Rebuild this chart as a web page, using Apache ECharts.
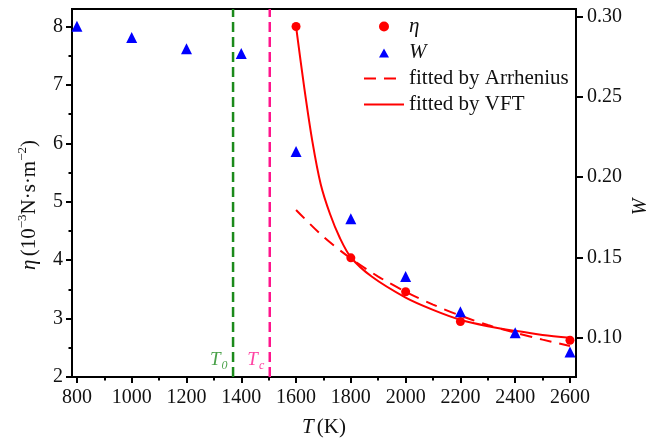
<!DOCTYPE html>
<html>
<head>
<meta charset="utf-8">
<script src="https://cdn.jsdelivr.net/npm/echarts@6/dist/echarts.min.js"></script>
<style>
  html, body { margin: 0; padding: 0; background: #fff; }
  #chart { width: 661px; height: 443px; }
</style>
</head>
<body>
<div id="chart"></div>
<script>
// 数据
const temps = [800, 1000, 1200, 1400, 1600, 1800, 2000, 2200, 2400, 2600];
const wVals = [0.294, 0.287, 0.280, 0.277, 0.216, 0.174, 0.138, 0.116, 0.103, 0.091];
const etaTemps = [1600, 1800, 2000, 2200, 2600];
const etaVals = [8.0, 4.04, 3.46, 2.95, 2.63];
const vftTemps = [1600, 1630, 1660, 1690, 1724, 1760, 1800, 1876, 2000, 2100, 2200, 2300, 2400, 2500, 2600];
const vftVals = [8.0, 6.95, 6.02, 5.3, 4.79, 4.38, 4.05, 3.72, 3.36, 3.15, 2.98, 2.87, 2.79, 2.72, 2.67];
const arrTemps = [1600, 1700, 1800, 1900, 2000, 2100, 2200, 2300, 2400, 2500, 2600];
const arrVals = [4.86, 4.40, 4.03, 3.72, 3.46, 3.24, 3.05, 2.89, 2.76, 2.64, 2.53];
const refTemps = [1370, 1504]; // T0, Tc
const refNames = ['0', 'c'];
const refColors = ['#1b8a1b', '#ff148c'];

// 轴刻度
const xRange = [782, 2622];
const etaRange = [2, 8.3];
const wRange = [0.0754, 0.3048];
const xTicks = [800, 1000, 1200, 1400, 1600, 1800, 2000, 2200, 2400, 2600];
const xMinor = [900, 1100, 1300, 1500, 1700, 1900, 2100, 2300, 2500];
const etaTicks = [2, 3, 4, 5, 6, 7, 8];
const etaMinor = [2.5, 3.5, 4.5, 5.5, 6.5, 7.5];
const wTicks = [0.10, 0.15, 0.20, 0.25, 0.30];

const font = 'Liberation Serif';
const zip = (a, b) => a.map((v, i) => [v, b[i]]);
// 图例里的三角形，两端补点让它不被拉伸
const legendTriangle = 'path://M0,0L0.01,0M15,10L20,1L25,10ZM39.99,10L40,10';

let chart = echarts.init(document.getElementById('chart'));

let refLineSeries = refTemps.map((t, i) => ({
  name: 'ref' + i,
  type: 'line',
  yAxisIndex: 0,
  symbol: 'none',
  z: 1,
  lineStyle: { color: refColors[i], width: 2.5, type: [10, 5] },
  data: [[t, etaRange[0]], [t, etaRange[1]]]
}));

let refLabelSeries = refTemps.map((t, i) => ({
  name: 'refLabel' + i,
  type: 'scatter',
  yAxisIndex: 0,
  symbolSize: 1,
  itemStyle: { color: 'rgba(0,0,0,0)' },
  z: 2,
  label: {
    show: true,
    position: 'left',
    distance: 5,
    offset: [0, -17],
    formatter: '{t|T}{s|' + refNames[i] + '}',
    rich: {
      t: { fontFamily: font, fontStyle: 'italic', fontSize: 19, color: refColors[i] },
      s: { fontFamily: font, fontStyle: 'italic', fontSize: 12, color: refColors[i], padding: [12, 0, 0, 1] }
    }
  },
  data: [[t, etaRange[0]]]
}));

let option = {
  animation: false,
  textStyle: { fontFamily: font },
  grid: {
    left: 72, right: 85, top: 9, bottom: 64,
    show: true, borderColor: '#000', borderWidth: 2, backgroundColor: 'transparent'
  },
  legend: {
    orient: 'vertical',
    left: 358,
    top: 11,
    itemWidth: 40,
    itemHeight: 10,
    itemGap: 5,
    data: [
      { name: 'η', icon: 'circle' },
      { name: 'W', icon: legendTriangle },
      { name: 'fitted by Arrhenius', itemStyle: { opacity: 0 } },
      { name: 'fitted by VFT', itemStyle: { opacity: 0 } }
    ],
    formatter: name => (name === 'η' || name === 'W') ? '{i|' + name + '}' : '{n|' + name + '}',
    textStyle: {
      fontFamily: font,
      fontSize: 21,
      color: '#111',
      rich: {
        i: { fontFamily: font, fontStyle: 'italic', fontSize: 21, color: '#111' },
        n: { fontFamily: font, fontSize: 21, color: '#111' }
      }
    }
  },
  graphic: [
    {
      type: 'text',
      x: 29, y: 205,
      rotation: Math.PI / 2,
      style: {
        text: '{i|η} {n|(10}{s|−3}{n|N·s·m}{s|−2}{n|)}',
        align: 'center',
        verticalAlign: 'middle',
        fill: '#111',
        rich: {
          i: { fontFamily: font, fontStyle: 'italic', fontSize: 21, fill: '#111' },
          n: { fontFamily: font, fontSize: 21, fill: '#111' },
          s: { fontFamily: font, fontSize: 13, fill: '#111', padding: [0, 0, 13, 0] }
        }
      }
    },
    {
      type: 'text',
      x: 641, y: 207,
      rotation: Math.PI / 2,
      style: {
        text: 'W',
        align: 'center',
        verticalAlign: 'middle',
        fontFamily: font,
        fontStyle: 'italic',
        fontSize: 20,
        fill: '#111'
      }
    }
  ],
  xAxis: [
    {
      type: 'value',
      min: xRange[0], max: xRange[1],
      name: '{i|T} {n|(K)}',
      nameLocation: 'middle',
      nameGap: 40,
      nameTextStyle: {
        rich: {
          i: { fontFamily: font, fontStyle: 'italic', fontSize: 21, color: '#111' },
          n: { fontFamily: font, fontSize: 21, color: '#111' }
        }
      },
      splitLine: { show: false },
      axisLine: { onZero: false, lineStyle: { color: '#000', width: 2 } },
      axisTick: { customValues: xTicks, length: 6, lineStyle: { color: '#000', width: 2 } },
      axisLabel: {
        customValues: xTicks, margin: 11, fontFamily: font, fontSize: 20, color: '#111',
        formatter: v => String(v)
      }
    },
    {
      type: 'value',
      min: xRange[0], max: xRange[1],
      position: 'bottom',
      splitLine: { show: false },
      axisLine: { show: false },
      axisTick: { customValues: xMinor, length: 3.5, lineStyle: { color: '#000', width: 2 } },
      axisLabel: { show: false }
    }
  ],
  yAxis: [
    {
      type: 'value',
      min: etaRange[0], max: etaRange[1],
      position: 'left',
      splitLine: { show: false },
      axisLine: { show: true, onZero: false, lineStyle: { color: '#000', width: 2 } },
      axisTick: { customValues: etaTicks, length: 6, lineStyle: { color: '#000', width: 2 } },
      axisLabel: {
        customValues: etaTicks, margin: 9, fontFamily: font, fontSize: 20, color: '#111',
        formatter: v => String(v)
      }
    },
    {
      type: 'value',
      min: wRange[0], max: wRange[1],
      position: 'right',
      splitLine: { show: false },
      axisLine: { show: true, onZero: false, lineStyle: { color: '#000', width: 2 } },
      axisTick: { customValues: wTicks, length: 7, lineStyle: { color: '#000', width: 2 } },
      axisLabel: {
        customValues: wTicks, margin: 11, fontFamily: font, fontSize: 20, color: '#111',
        formatter: v => v.toFixed(2)
      }
    },
    {
      type: 'value',
      min: etaRange[0], max: etaRange[1],
      position: 'left',
      splitLine: { show: false },
      axisLine: { show: false },
      axisTick: { customValues: etaMinor, length: 3.5, lineStyle: { color: '#000', width: 2 } },
      axisLabel: { show: false }
    }
  ],
  series: [
    ...refLineSeries,
    ...refLabelSeries,
    {
      name: 'fitted by Arrhenius',
      type: 'line',
      yAxisIndex: 0,
      smooth: 0.3,
      symbol: 'none',
      z: 3,
      lineStyle: { color: '#ff0000', width: 2, type: [12, 8] },
      itemStyle: { color: '#ff0000' },
      data: zip(arrTemps, arrVals)
    },
    {
      name: 'fitted by VFT',
      type: 'line',
      yAxisIndex: 0,
      smooth: 0.3,
      symbol: 'none',
      z: 3,
      lineStyle: { color: '#ff0000', width: 2 },
      itemStyle: { color: '#ff0000' },
      data: zip(vftTemps, vftVals)
    },
    {
      name: 'η',
      type: 'scatter',
      yAxisIndex: 0,
      symbol: 'circle',
      symbolSize: 9,
      z: 4,
      itemStyle: { color: '#ff0000', opacity: 1 },
      data: zip(etaTemps, etaVals)
    },
    {
      name: 'W',
      type: 'scatter',
      yAxisIndex: 1,
      symbol: 'triangle',
      symbolSize: 11,
      z: 5,
      itemStyle: { color: '#0000ff', opacity: 1 },
      data: zip(temps, wVals)
    }
  ]
};

chart.setOption(option, true);
</script>
</body>
</html>
